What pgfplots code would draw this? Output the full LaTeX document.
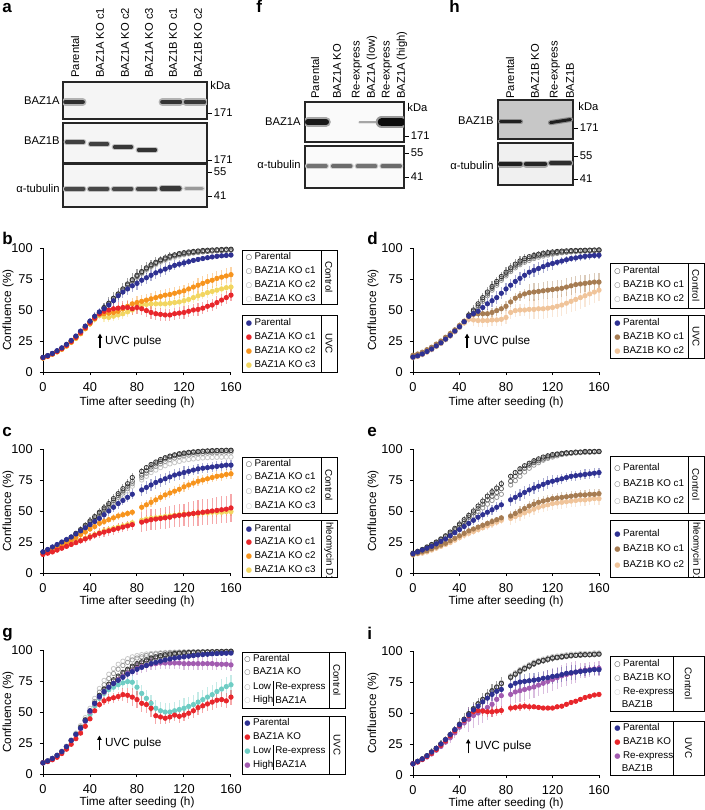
\documentclass[border=0pt]{standalone}
\usepackage{pgfplots}
\pgfplotsset{compat=1.18}
\usepackage{pgfplotstable}
\usepackage{fontspec}
\setmainfont{Liberation Sans}
\newfontfamily\sym{DejaVu Sans}
\usetikzlibrary{arrows.meta}

\definecolor{cb}{HTML}{2E3192}
\definecolor{cr}{HTML}{E8262B}
\definecolor{co}{HTML}{F7941D}
\definecolor{cy}{HTML}{F2D660}
\definecolor{cbr}{HTML}{A67C52}
\definecolor{ctn}{HTML}{F0C49A}
\definecolor{ccy}{HTML}{6ECDC4}
\definecolor{cpu}{HTML}{A25BB0}
\definecolor{g0}{HTML}{333333}
\definecolor{g1}{HTML}{666666}
\definecolor{g2}{HTML}{9A9A9A}
\definecolor{g3}{HTML}{C8C8C8}

\newcommand{\lgf}{\fontsize{4.9}{5.5}\selectfont}
\newcommand{\blf}{\fontsize{5.6}{6.5}\selectfont}
\newcommand{\axf}{\fontsize{5.9}{7}\selectfont}
\newcommand{\oc}[1]{{\color{#1}\sym\fontsize{3.6}{4}\selectfont ○}}
\newcommand{\fc}[1]{{\color{#1}\sym\fontsize{3.6}{4}\selectfont ●}}
\newcommand{\band}[7]{\addplot[no marks, line width=#5, #7, line cap=round] coordinates {(#1,#3) (#2,#3)};\addplot[no marks, line width=#4, #6, line cap=round] coordinates {(#1,#3) (#2,#3)};}

\tikzset{lg/.style={anchor=west, inner sep=0pt, font=\lgf}}
\pgfplotsset{
 conf/.style={scale only axis, anchor=south west, width=94pt, height=62pt,
   xmin=0, xmax=160, ymin=0, ymax=100, enlargelimits=false,
   axis lines=left, axis line style={-, line width=0.5pt},
   xtick={0,40,80,120,160}, ytick={0,25,50,75,100},
   tick align=outside, major tick length=1.6pt, tick style={line width=0.5pt, black},
   tick label style={font=\fontsize{6.4}{7}\selectfont},
   /pgf/number format/assume math mode=true, clip=false},
 ctl/.style={only marks, mark=o, mark size=1.1pt, draw=#1, mark options={line width=0.4pt, draw=#1, fill=none}},
 ctle/.style={ctl=#1, error bars/.cd, y dir=both, y explicit, error mark=none, error bar style={line width=0.6pt, #1, opacity=0.45}},
 trt/.style={only marks, mark=*, mark size=1.1pt, color=#1, error bars/.cd, y dir=both, y explicit, error mark=none, error bar style={line width=0.6pt, #1, opacity=0.4}},
 blot/.style={scale only axis, anchor=south west, xmin=0, ymin=0, ymax=1, ticks=none,
   axis line style={line width=0.6pt, black!85}, clip=true, axis background/.style={fill=black!4}},
}

% ---------------- panel b ----------------
\pgfplotstableread{
t P C1 C2 C3 U R O Y eP eU eR eO eY
0 11.5 11.5 11.5 11.5 11.8 11.5 11.3 11.2 1 1 1 1 1
4 13 13 13 13 13.2 12.8 12.7 12.6 1 1 1 1 1
8 14.8 14.8 14.8 14.6 15 14.6 14.4 14.3 1 1 1 1 1
12 16.8 16.8 16.6 16.5 17.2 16.6 16.3 16.2 1 1 1 1 1
16 19 19 18.8 18.6 19.5 18.8 18.4 18.2 1 1 1 1 1
20 21.8 21.6 21.5 21.2 22.3 21.5 21 20.8 1 1.5 1 1 1
24 25 24.8 24.6 24.3 25.5 24.5 24 23.8 1.5 1.5 1.5 1.5 1.5
28 28.5 28.3 28 27.6 29 28 27.4 27 1.5 2 2 1.5 1.5
32 32.5 32.2 32 31.5 33 31.8 31 30.8 2 2 2 2 2
36 36.5 36.2 36 35.5 37 35.8 35 34.8 2 2.5 2.5 2 2
40 40.5 40.2 40 39.5 41 39.8 39 38.8 2.5 2.5 2.5 2.5 2.5
44 44.5 44.2 44 43.5 45 43.5 43 42.5 3 3 3 3 3
48 48 47.8 47.5 47 48.5 47 46.5 45.5 3 3 3 3 3
52 52 51.5 51.5 50.5 51 49 47 44.5 4 4 4 4 4
56 55.5 55 55 54 54 50 47.5 44 5 5 5 4 4
60 59.5 59 59 58 57.5 51 48 45 5 5 5 5 4
64 63 62.5 62.5 61.5 61.5 51.5 49 46 5 5 5 5 4
68 67 66 66.5 65 64.5 52 51 47 5 5 5 5 4
72 71 70 70.5 69 67 52 53 48.5 5 5 5 5 4
76 74.5 73.5 74 72.5 69.5 51 55 50 5 5 5 5 4
80 78 77 77.5 76 71.5 52 56 53 5 5 5 5 4
84 81 80 80.5 79 74 51 57 54 5 5 5 5 4
88 84 83 83.5 82 76 49.5 58 54.5 5 5 5 5 4
92 86.5 85.5 86 84.5 78 48 59 55 4 5 5 5 4
96 88.5 87.5 88 86.5 80 47 60 55 4 5 5 5 4
100 90.5 89.5 90 88.5 81.5 46.5 61 55 3 5 5 5 4
104 92 91 91.5 90 83 46 62 55 3 5 5 5 4
108 93.5 92.5 93 91.5 84.5 46 62.5 55.5 3 4 5 5 4
112 94.5 93.5 94 92.5 86 47 63.5 56 2 4 5 5 4
116 95.5 94.5 95 93.5 87 47.5 64.5 56.5 2 3 5 5 4
120 96.2 95.2 95.7 94.5 88 48 65.5 57.5 2 3 5 5 4
124 96.8 95.8 96.3 95.2 89 49 67 58.5 1.5 3 5 5 4
128 97.2 96.3 96.8 95.8 90 50 68.5 60 1.5 2 5 5 4
132 97.6 96.7 97.2 96.3 90.8 50.5 70 61.5 1.5 2 5 6 4
136 98 97 97.5 96.8 91.5 51.5 71.5 62.5 1 2 5 6 4
140 98.2 97.3 97.8 97.2 92.2 53 73 64 1 2 5 6 4
144 98.4 97.6 98 97.5 92.8 54 74 65 1 1.5 5 6 4
148 98.6 97.8 98.2 97.8 93.3 56 75.5 66 1 1.5 5 6 4
152 98.8 98 98.4 98 93.7 58 76.5 67 1 1.5 5 6 4
156 99 98.2 98.6 98.2 94 60 77.5 68 1 1.5 5 6 4
160 99 98.3 98.7 98.3 94.3 62 78.5 68.5 1 1.5 5 6 4
}\tb

% ---------------- panel c ----------------
\pgfplotstableread{
t P C1 C2 C3 U R O Y eP eU eR eO eY
0 17 16.8 16.5 16.5 17 15 16 15.5 1.5 2 2 2 2
4 18.5 18.3 18 18 19 16 17.5 16.5 1.5 2 2 2 2
8 20 19.8 19.5 19.5 21 17 19 17.5 1.5 2 2 2 2
12 22 21.8 21.5 21.3 23 18.5 20.5 19 1.5 2 2 2 2
16 24 23.7 23.3 23 25 20 22.5 20.5 1.5 2 2 2 2
20 26.5 26 25.5 25 27 21.5 24.5 22 1.5 2 2 2 2
24 29 28.5 28 27.5 29 23 26.5 23.5 1.5 2 2 2 2
28 32 31.3 30.5 30 31.5 24.5 28.5 25 1.5 2 2 2 2
32 35 34.3 33.5 32.8 34 26 31 26.5 3 3 3 2.5 2.5
36 38.5 37.5 36.5 35.8 36.5 27.5 33 28 3 3 3 2.5 2.5
40 42 41 40 39 39 29 35.5 29.5 3 3 3 2.5 2.5
44 45.5 44.5 43.5 42.3 41.5 30.5 37.5 31 3 3 3 2.5 2.5
48 49 48 47 45.5 44 32 40 32.5 3.5 4 4 3 3
52 52.5 51.3 50 48.8 47 33 41.5 34 3.5 4 4 3 3
56 56 54.8 53.5 52 50 34 43 35 3.5 4 4 3 3
60 60 58.5 57 55.5 53 35 44.5 36 3.5 4 4 3 3
64 64 62.5 61 59 56 36 46 37 3.5 4 4 3 3
68 68 66.3 64.5 62.5 58.5 37 47 38 3.5 4 4 3 3
72 72 70 68 66 61 38 48 39 3.5 4 4 3 3
76 77 74 72 70 63.5 39 49 40.5 3.5 4 4 3 3
84 82 79 77 75 67 41 53 42.5 2.5 5 8 4 3
88 85 82.5 80.5 78 69 42 55 43.5 2 5 8.5 4 3
92 87.5 85.5 83.5 81 71 43 57 44 2 5 8.5 4 3
96 89.5 88 86 83 73 43.5 59 44.5 2 5 8.5 4 3
100 91.5 90 88 85 74.5 44 61 45 2 5 8.5 4 3
104 93 92 90 86.5 76 44.5 63 45.5 1.5 5 9 4 3.5
108 94.3 93.5 91.5 88 77.5 45 64.5 46 1.5 5 9 4 3.5
112 95.3 94.6 92.8 89 79 46 66 46.5 1.5 5 9 4 3.5
116 96.2 95.5 93.8 90 80 46.5 67.5 47 1.5 5 9 4 3.5
120 96.8 96.2 94.6 91 81 47 69.5 47.5 1.5 5 9 4 3.5
124 97.3 96.8 95.2 91.5 82 47.5 71 47.5 1 4 10 4 3.5
128 97.7 97.2 95.7 92 83 48 72.5 48 1 4 10 4 3.5
132 98 97.6 96.1 92.5 84 48.5 74 48 1 4 10.5 4 3.5
136 98.3 97.9 96.4 92.8 84.5 49 75 48.5 1 4 10.5 4 3.5
140 98.5 98.1 96.7 93 85 49.5 76 48.5 1 4 10.5 4 3.5
144 98.7 98.3 96.9 93.2 85.5 50 77 49 1 4 10.5 4 3.5
148 98.8 98.5 97.1 93.3 86 50.5 78 49 1 4 11 4 3.5
152 98.9 98.6 97.3 93.4 86.5 51 78.5 49 1 4 11 4 3.5
156 99 98.7 97.4 93.5 87 51.5 79.5 49.5 1 4 11 4 3.5
160 99 98.8 97.5 93.5 87 52.5 80 49.5 1 4 11 4 3.5
}\tc

% ---------------- panel d ----------------
\pgfplotstableread{
t P C1 C2 U B1 B2 eP eU eB1 eB2
0 12 12 12 12 13.5 11.5 1 1 1 1
4 13 13 13 13 14.5 12.5 1 1 1 1
8 14.5 14.5 14.5 14.5 16 14 1 1 1 1
12 16.5 16.5 16.3 16.5 18 16 1 1 1 1
16 18.5 18.5 18.3 18.5 20 18 1 1 1 1
20 21 21 20.8 21 22.5 20.5 1 1 1 1
24 23.5 23.5 23.2 23.5 25 23 1 1 1 1
28 26.5 26.5 26.2 26.5 28 26 1 1 1 1
32 29.5 29.5 29.2 29.5 31 29 2 2.5 2.5 2.5
36 33 33 32.6 33 34 32.5 2 2.5 2.5 2.5
40 36.5 36.5 36 36.5 37.5 36 2 2.5 2.5 2.5
44 40.5 40.3 39.8 40.5 41 39.5 2 2.5 2.5 2.5
48 46 45.5 45 45 45 42.5 3 3 3 3
52 50 49 48.5 47 46.5 42 4 5 4 5
56 55 53.5 52.5 49 47 41.5 4 5 4 5
60 60 58.5 57 52 47 41.5 4 5 4 5
64 64.5 63 61.5 55 47 41.5 4 5 4 5
68 69 67.5 66 57.5 48 42 4 5 4 5
72 73 71.5 70 60 49.5 42 4 5 4 5
76 77 75.5 74 63.5 51 42.5 4 5 4 5
80 80.5 79 77.5 67 53 44 4 5 4 5
84 84 82.5 81 70 56.5 48 4 5 4 5
88 87 85.5 84 73 59.5 49.5 4 5 4 5
92 89.5 88 86.5 75.5 61.5 50 4 5 4 5
96 91.5 90 88.5 78 63 50 4 5 4 5
100 93 91.5 90 80.5 64 50.5 2.5 5 7 8
104 94 92.8 91.5 82 64.5 50.5 2.5 5 7 8
108 95 93.8 92.6 83.5 65 51 2.5 5 7 8
112 95.8 94.6 93.5 85 65.5 51 2.5 5 7 8
116 96.3 95.3 94.3 86.5 66 51.5 2.5 5 7 8
120 96.8 95.8 95 87.5 66.5 52 2.5 5 7 8
124 97.2 96.3 95.6 88.5 67 53 1.5 3 7 9
128 97.5 96.7 96.1 89.5 67.5 54 1.5 3 7 9
132 97.7 97 96.5 90.5 68.5 55.5 1.5 3 7 9
136 97.9 97.3 96.8 91.5 69.5 57 1.5 3 7 9
140 98 97.5 97.1 92 70.5 58.5 1.5 3 7 9
144 98.1 97.7 97.3 92.8 71 60 1.5 3 7 9
148 98.2 97.9 97.5 93.3 71.5 61.5 1.5 3 7 9
152 98.3 98 97.7 93.7 72 63 1.5 3 7 9
156 98.4 98.1 97.8 94 72.5 64.5 1.5 3 7 9
160 98.5 98.2 98 94.2 72.5 66 1.5 3 7 9
}\td

% ---------------- panel e ----------------
\pgfplotstableread{
t P C1 C2 U B1 B2 eP eU eB1 eB2
0 16 15.5 15 15.5 15 14.5 1.5 1.5 1.5 1.5
4 17.5 17 16.5 17 16 15.5 1.5 1.5 1.5 1.5
8 19 18.5 18 18.5 17 16 1.5 1.5 1.5 1.5
12 21 20.5 20 20 18 17 1.5 1.5 1.5 1.5
16 23 22.5 22 21.5 19.5 18.5 1.5 1.5 1.5 1.5
20 25 24.5 24 23.5 21 20 1.5 1.5 1.5 1.5
24 27.5 27 26.5 25.5 22.5 21.5 1.5 1.5 1.5 1.5
28 30 29.5 28.5 27.5 24 23 1.5 1.5 1.5 1.5
32 33 32 31 30 26 24.5 1.5 1.5 1.5 1.5
36 36 35 34 32.5 28 26.5 1.5 1.5 1.5 1.5
40 39.5 38.5 37 35 30 28.5 3 4 2.5 3
44 43 41.5 40 37.5 32 30.5 3 4 2.5 3
48 46.5 45 43 40 34 32 3 4 2.5 3
52 50 48.5 46 42.5 35.5 33.5 3 4 2.5 3
56 54 52 49.5 45 37 35 3 4 2.5 3
60 58 55.5 52.5 47 38.5 36.5 3 4 2.5 3
64 62 59 55.5 49 40 38 3 4 2.5 3
68 65.5 62 58.5 51 41.5 39.5 3 4 2.5 3
72 68.5 65 61 53 43 41 3 4 2.5 3
76 72 68 63.5 55 44.5 42.5 3 4 2.5 3
84 78 74 71 59 46 44 2 5 4 5
88 81 78 74.5 61 48 45.5 2 5 4 5
92 84 81.5 78 63 50 47 2 5 4 5
96 86.5 84.5 81.5 65 52 48.5 2 5 4 5
100 88.5 87 84.5 67 54 50 2 5 4 5
104 90.5 89 87 68.5 55.5 51.5 2 5 4 5
108 92 90.5 89 70 57 53 2 5 4 5
112 93.5 92 91 71.5 58 54 2 5 4 5
116 94.5 93.5 92.5 73 59 55 2 5 4 5
120 95.5 94.5 93.5 74 60 56 2 5 4 5
124 96 95.5 94.5 75 60.5 56.5 1 4 4 5
128 96.5 96 95.5 76 61 57 1 4 4 5
132 97 96.5 96 77 61.5 57.5 1 4 4 5
136 97 97 96.5 78 62 58 1 4 4 5
140 97.5 97 97 78.5 62.5 58.5 1 4 4 5
144 97.5 97.5 97 79 63 59 1 4 4 5
148 98 97.5 97.5 79.5 63 59 1 4 4 5
152 98 97.5 97.5 80 63.5 59.5 1 4 4 5
156 98 98 97.5 80.5 63.5 60 1 4 4 5
160 98 98 98 81 64 60 1 4 4 5
}\te

% ---------------- panel g ----------------
\pgfplotstableread{
t P K L H U R CY PU eP eU eR eCY ePU
0 9 9 9 9 9 9 9 9 1 1 1 1 1
4 10.5 10.5 10.5 10.5 10.5 10 10.5 10.5 1 1 1 1 1
8 12.5 12.5 12.5 12.5 12.5 11.5 12.5 12.5 1 1 1 1 1
12 15 15 15 15 15 13.5 15 15 1 1 1 1 1
16 18 18 18 18.5 18 16.5 18 18 1 1 1 1 1
20 22 22 22 22.5 22 20 22 22 1.5 1.5 1.5 1.5 1.5
24 27 27 27 27.5 27 24 27 27 1.5 1.5 1.5 1.5 1.5
28 32 32 32 33 32 28.5 32 31.5 2 2 2 2 2
32 37.5 37.5 38 39 37 33 37 36.5 2 2 2 2 2
36 43.5 43.5 44 45.5 43 38.5 42.5 42.5 2 2 2 2 2
40 50 50 51 53 51 44.5 48 50 2 2 2 2 2
44 57 56.5 58.5 61 57 51 55 56.5 2 2 2 3 2
48 63.5 63 66 69 62.5 56 61 62 2 2 3 3 2
52 68.5 68 72 75.5 66.5 59 65 66 2 2 3 3 3
56 72.5 72 77 80.5 70 60.5 68 70 2 2 4 4 3
60 76 75 81 85 73 61.5 70 73 2 2 4 4 3
64 79 78 84.5 88.5 75.5 62.5 72 76 2 2 4 4 4
68 82 81 87.5 91 78 64 73.5 78.5 2 2 5 5 4
72 84.5 83.5 90 93 80.5 63.5 74.5 81 2 2 6 5 4
76 87 86 92 94.5 82.5 62 74 83 2 2 7 6 4
80 89 88 93.5 95.5 84.5 60 70 85 2 2 7 6 5
84 90.5 89.5 94.5 96.3 86 57 65 86.5 2 2 7 7 5
88 92 91 95.5 96.8 87.5 56 61 87.5 2 2 7 7 5
92 93.5 92.5 96.3 97.2 89 53 57 88.5 2 2 7 7 5
96 94.5 93.5 96.8 97.5 90 47 53 89 1.5 2 7 7 5
100 95.5 94.5 97.2 97.8 91 46 51 89.5 1.5 2 6 7 5
104 96.2 95.3 97.5 98 92 45 50 89.5 1.5 1.5 5 7 5
108 96.8 96 97.8 98.2 92.8 46 50 89.5 1 1.5 5 7 5
112 97.2 96.5 98 98.3 93.5 47.5 51 89.5 1 1.5 5 7 5
116 97.5 97 98.2 98.4 94 46.5 52 89.5 1 1.5 5 8 5
120 97.8 97.3 98.3 98.5 94.5 47.5 53 89 1 1 5 8 5
124 98 97.6 98.4 98.5 95 49 54.5 89 1 1 5 8 5
128 98.2 97.8 98.5 98.6 95.5 51 56 89 1 1 6 8 5
132 98.3 98 98.5 98.6 96 53.5 58 89 1 1 6 8 5
136 98.4 98.1 98.6 98.7 96.3 55 60 89 1 1 6 8 5
140 98.5 98.2 98.6 98.7 96.6 56.5 62 89 1 1 6 8 5
144 98.6 98.3 98.7 98.8 96.9 58 64 89 1 1 6 8 5
148 98.7 98.4 98.7 98.8 97.1 59.5 66.5 88.5 1 1 6 8 5
152 98.8 98.5 98.8 98.9 97.3 60 68.5 88.5 1 1 6 8 5
156 98.9 98.6 98.8 98.9 97.4 59 70.5 88.5 1 1 6 8 5
160 99 98.7 98.9 99 97.5 62 72 88 1 1 6 8 5
}\tg

% ---------------- panel i ----------------
\pgfplotstableread{
t P K RE U R PU eP eU eR ePU
0 9 9 9 9 9 9 1 1 1 1
4 11 11 11 11 10.5 10.5 1 1 1 1
8 13 13 13 13 12.5 12.5 1 1 1 1
12 15.5 15.5 15.5 15.5 15 14.5 1 1 1 1
16 18.5 18.5 18.5 18.5 17.5 17 3 2 1.5 2
20 21.5 21.5 21.5 21.5 20.5 20 3 2 1.5 2
24 25 25 25 25 24 23 3 2 1.5 2
28 28.5 28.5 28.5 28.5 27.5 26.5 3 2 1.5 2
32 32.5 32.5 32.5 32.5 31.5 30 3 3 3 4
36 36.5 36.5 36.5 36.5 35.5 34 3 3 3 4
40 41 40.5 41 40.5 40 38.5 5 3 3 4
44 45 44.5 45 44.5 44 42 5 3 3 4
48 49.5 49 49.5 48.5 48 45 5 5 4 10
52 53.5 53 53.5 52.5 51 48 5 5 4 10
56 57.5 57 57.5 55.5 52 50 5 5 4 10
60 61 60.5 61 59 51.5 52 5 5 4 10
64 64.5 64 64.5 62 51 54.5 5 5 4 10
68 68 67.5 68 65 51 57 5 5 4 10
72 71 70.5 71 67.5 51.5 61 5 5 4 10
76 74 73.5 74.5 69 52 64 5 5 4 10
84 79 78.5 80 72 54 65 3 6 3 9
88 81.5 81 82.5 74 54.5 67 3 6 3 9
92 84 83.5 85 75 55 68 3 6 3 9
96 86 85.5 87 75.5 55.5 69 3 6 3 9
100 88 87.5 89 76 55 70 3 6 3 9
104 90 89.5 91 76.5 55 71 3 6 1.5 9
108 91.5 91 92.5 77 54.5 72.5 3 6 1.5 9
112 92.5 92 93.5 78 54 74 3 6 1.5 9
116 93.5 93 94.5 78.5 54 75.5 3 6 1.5 9
120 94.5 94 95.5 79.5 54 77 3 6 1.5 9
124 95 94.5 96 80 55 78.5 1.5 6 1 9
128 95.5 95 96.5 81 55.5 80 1.5 6 1 9
132 96 95.5 97 82 57 81 1.5 6 1 9
136 96.5 96 97.5 82.5 58.5 82 1.5 6 1 9
140 96.5 96.5 97.5 83 59.5 83 1.5 6 1 9
144 97 96.5 98 83.5 61 84 1.5 4 1 6
148 97 97 98 84 62.5 84.5 1.5 4 1 6
152 97 97 98 84.5 63.5 85 1.5 4 1 6
156 97.5 97 98.5 85 64.5 85.5 1.5 4 1 6
160 97.5 97.5 98.5 85 65 86 1.5 4 1 6
}\ti

\begin{document}
\begin{tikzpicture}
\useasboundingbox (0,0) rectangle (352.5pt,-405pt);

% ================= BLOTS =================
% a
\begin{axis}[blot, at={(31.5pt,-59.5pt)}, width=72pt, height=18.5pt, xmax=6]
\band{0.1}{0.82}{0.46}{2.2pt}{3.8pt}{black!82}{black!30}
\band{4.14}{4.88}{0.46}{2.2pt}{3.8pt}{black!80}{black!30}
\band{5.12}{5.88}{0.46}{2.2pt}{3.8pt}{black!78}{black!30}
\end{axis}
\begin{axis}[blot, at={(31.5pt,-81.5pt)}, width=72pt, height=20pt, xmax=6]
\band{0.15}{0.85}{0.52}{1.8pt}{3pt}{black!75}{black!25}
\band{1.15}{1.85}{0.47}{1.8pt}{3pt}{black!75}{black!25}
\band{2.15}{2.85}{0.40}{1.8pt}{3pt}{black!78}{black!25}
\band{3.15}{3.85}{0.33}{1.8pt}{3pt}{black!80}{black!25}
\end{axis}
\begin{axis}[blot, at={(31.5pt,-103.5pt)}, width=72pt, height=21.5pt, xmax=6]
\band{0.12}{0.85}{0.42}{2pt}{3.2pt}{black!72}{black!25}
\band{1.12}{1.85}{0.42}{2pt}{3.2pt}{black!72}{black!25}
\band{2.12}{2.85}{0.42}{2pt}{3.2pt}{black!72}{black!25}
\band{3.12}{3.85}{0.42}{2pt}{3.2pt}{black!72}{black!25}
\band{4.12}{4.85}{0.43}{2.2pt}{3.4pt}{black!78}{black!28}
\band{5.12}{5.8}{0.43}{1.6pt}{2.8pt}{black!40}{black!15}
\end{axis}
% f
\begin{axis}[blot, at={(152.5pt,-71pt)}, width=49.5pt, height=20pt, xmax=4, axis background/.style={fill=black!2}]
\band{0.12}{0.85}{0.5}{3pt}{4.8pt}{black!90}{black!35}
\band{2.2}{2.9}{0.5}{0.7pt}{1.5pt}{black!35}{black!10}
\band{3.1}{3.9}{0.5}{4pt}{6pt}{black!95}{black!40}
\end{axis}
\begin{axis}[blot, at={(152.5pt,-94pt)}, width=49.5pt, height=21pt, xmax=4, axis background/.style={fill=black!2}]
\band{0.12}{0.85}{0.52}{1.8pt}{3pt}{black!55}{black!18}
\band{1.12}{1.85}{0.52}{1.8pt}{3pt}{black!58}{black!18}
\band{2.12}{2.85}{0.52}{1.8pt}{3pt}{black!55}{black!18}
\band{3.12}{3.85}{0.52}{1.8pt}{3pt}{black!58}{black!18}
\end{axis}
% h
\begin{axis}[blot, at={(249pt,-69.5pt)}, width=37.5pt, height=19.5pt, xmax=3, axis background/.style={fill=black!22}]
\band{0.1}{0.9}{0.44}{1.5pt}{2.6pt}{black!88}{black!45}
\addplot[no marks, line width=2.6pt, black!45, line cap=round] coordinates {(2.1,0.42) (2.9,0.5)};
\addplot[no marks, line width=1.5pt, black!88, line cap=round] coordinates {(2.1,0.42) (2.9,0.5)};
\end{axis}
\begin{axis}[blot, at={(249pt,-92.5pt)}, width=37.5pt, height=21pt, xmax=3, axis background/.style={fill=black!6}]
\band{0.08}{0.9}{0.5}{2.2pt}{3.5pt}{black!88}{black!35}
\band{1.12}{1.88}{0.5}{2.2pt}{3.5pt}{black!85}{black!35}
\band{2.12}{2.88}{0.52}{2pt}{3.3pt}{black!82}{black!35}
\end{axis}

% ================= CHARTS =================
% b
\begin{axis}[conf, at={(21.5pt,-186pt)}]
\addplot[ctl=g3] table[x=t,y=C3]{\tb};
\addplot[ctl=g2] table[x=t,y=C2]{\tb};
\addplot[ctl=g1] table[x=t,y=C1]{\tb};
\addplot[ctle=g0] table[x=t,y=P,y error=eP]{\tb};
\addplot[trt=cy] table[x=t,y=Y,y error=eY]{\tb};
\addplot[trt=co] table[x=t,y=O,y error=eO]{\tb};
\addplot[trt=cr] table[x=t,y=R,y error=eR]{\tb};
\addplot[trt=cb] table[x=t,y=U,y error=eU]{\tb};
\draw[-{Triangle[length=2.2pt,width=2.2pt]}, line width=0.6pt] (axis cs:48.5,19.5) -- (axis cs:48.5,31);
\node[anchor=base west, inner sep=0pt, font=\axf] at (axis cs:52.5,22.3) {UVC pulse};
\end{axis}
% d
\begin{axis}[conf, at={(206.5pt,-186pt)}, width=93pt]
\addplot[ctl=g2] table[x=t,y=C2]{\td};
\addplot[ctl=g1] table[x=t,y=C1]{\td};
\addplot[ctle=g0] table[x=t,y=P,y error=eP]{\td};
\addplot[trt=ctn] table[x=t,y=B2,y error=eB2]{\td};
\addplot[trt=cbr] table[x=t,y=B1,y error=eB1]{\td};
\addplot[trt=cb] table[x=t,y=U,y error=eU]{\td};
\draw[-{Triangle[length=2.2pt,width=2.2pt]}, line width=0.6pt] (axis cs:46.5,19.5) -- (axis cs:46.5,31);
\node[anchor=base west, inner sep=0pt, font=\axf] at (axis cs:52,22.3) {UVC pulse};
\end{axis}
% c
\begin{axis}[conf, at={(21.5pt,-286.5pt)}]
\addplot[ctl=g3] table[x=t,y=C3]{\tc};
\addplot[ctl=g2] table[x=t,y=C2]{\tc};
\addplot[ctl=g1] table[x=t,y=C1]{\tc};
\addplot[ctle=g0] table[x=t,y=P,y error=eP]{\tc};
\addplot[trt=cy] table[x=t,y=Y,y error=eY]{\tc};
\addplot[trt=co] table[x=t,y=O,y error=eO]{\tc};
\addplot[trt=cr] table[x=t,y=R,y error=eR]{\tc};
\addplot[trt=cb] table[x=t,y=U,y error=eU]{\tc};
\end{axis}
% e
\begin{axis}[conf, at={(206.5pt,-286.5pt)}, width=93pt]
\addplot[ctl=g2] table[x=t,y=C2]{\te};
\addplot[ctl=g1] table[x=t,y=C1]{\te};
\addplot[ctle=g0] table[x=t,y=P,y error=eP]{\te};
\addplot[trt=ctn] table[x=t,y=B2,y error=eB2]{\te};
\addplot[trt=cbr] table[x=t,y=B1,y error=eB1]{\te};
\addplot[trt=cb] table[x=t,y=U,y error=eU]{\te};
\end{axis}
% g
\begin{axis}[conf, at={(21.5pt,-387pt)}]
\addplot[ctl=g3] table[x=t,y=H]{\tg};
\addplot[ctl=g2] table[x=t,y=L]{\tg};
\addplot[ctl=g1] table[x=t,y=K]{\tg};
\addplot[ctle=g0] table[x=t,y=P,y error=eP]{\tg};
\addplot[trt=ccy] table[x=t,y=CY,y error=eCY]{\tg};
\addplot[trt=cpu] table[x=t,y=PU,y error=ePU]{\tg};
\addplot[trt=cr] table[x=t,y=R,y error=eR]{\tg};
\addplot[trt=cb] table[x=t,y=U,y error=eU]{\tg};
\draw[-{Triangle[length=2.2pt,width=2.2pt]}, line width=0.6pt] (axis cs:48,19.5) -- (axis cs:48,31);
\node[anchor=base west, inner sep=0pt, font=\axf] at (axis cs:52.5,22.3) {UVC pulse};
\end{axis}
% i
\begin{axis}[conf, at={(206.5pt,-387.5pt)}, width=93pt]
\addplot[ctl=g3] table[x=t,y=RE]{\ti};
\addplot[ctl=g1] table[x=t,y=K]{\ti};
\addplot[ctle=g0] table[x=t,y=P,y error=eP]{\ti};
\addplot[trt=cpu] table[x=t,y=PU,y error=ePU]{\ti};
\addplot[trt=cr] table[x=t,y=R,y error=eR]{\ti};
\addplot[trt=cb] table[x=t,y=U,y error=eU]{\ti};
\draw[-{Triangle[length=2.2pt,width=2.2pt]}, line width=0.6pt] (axis cs:47.5,17.5) -- (axis cs:47.5,29);
\node[anchor=base west, inner sep=0pt, font=\axf] at (axis cs:53,20.3) {UVC pulse};
\end{axis}

% ================= ANNOTATIONS (pixel coords) =================
\begin{scope}[x=0.5pt, y=-0.5pt]
% panel letters
\foreach \l/\x/\y in {a/2/12, f/256/12, h/449/12, b/2/244, d/367/244, c/2/436, e/367/436, g/2/637, i/367/639}
  \node[anchor=base west, inner sep=0pt, font=\fontsize{8.5}{9}\selectfont\bfseries] at (\x,\y) {\l};

% ----- blot a labels -----
\foreach \x/\t in {75/Parental, 100/BAZ1A KO c1, 125/BAZ1A KO c2, 149/BAZ1A KO c3, 173/BAZ1B KO c1, 198/BAZ1B KO c2}
  \node[rotate=90, anchor=west, inner sep=0pt, font=\blf] at (\x,78) {\t};
\node[anchor=east, inner sep=0pt, font=\blf] at (60,101) {BAZ1A};
\node[anchor=east, inner sep=0pt, font=\blf] at (60,141) {BAZ1B};
\node[anchor=east, inner sep=0pt, font=\blf] at (60,188) {α-tubulin};
\node[anchor=west, inner sep=0pt, font=\blf] at (210,85) {kDa};
\foreach \y/\t in {113/171, 160/171, 172/55, 196/41}{
  \draw[line width=0.5pt] (208,\y) -- (212,\y);
  \node[anchor=west, inner sep=0pt, font=\blf] at (213.5,\y) {\t};}

% ----- blot f labels -----
\foreach \x/\t in {315/Parental, 337/BAZ1A KO, 357/Re-express, 372/BAZ1A (low), 387/Re-express, 402/BAZ1A (high)}
  \node[rotate=90, anchor=west, inner sep=0pt, font=\blf] at (\x,99) {\t};
\node[anchor=east, inner sep=0pt, font=\blf] at (301,122) {BAZ1A};
\node[anchor=east, inner sep=0pt, font=\blf] at (301,164) {α-tubulin};
\node[anchor=west, inner sep=0pt, font=\blf] at (407,107) {kDa};
\foreach \y/\t in {136/171, 153/55, 177/41}{
  \draw[line width=0.5pt] (405,\y) -- (409,\y);
  \node[anchor=west, inner sep=0pt, font=\blf] at (410.5,\y) {\t};}

% ----- blot h labels -----
\foreach \x/\t in {510/Parental, 535/BAZ1B KO, 555/Re-express, 570/BAZ1B}
  \node[rotate=90, anchor=west, inner sep=0pt, font=\blf] at (\x,99) {\t};
\node[anchor=east, inner sep=0pt, font=\blf] at (494,121) {BAZ1B};
\node[anchor=east, inner sep=0pt, font=\blf] at (494,165) {α-tubulin};
\node[anchor=west, inner sep=0pt, font=\blf] at (578,106) {kDa};
\foreach \y/\t in {128/171, 156/55, 179/41}{
  \draw[line width=0.5pt] (574,\y) -- (578,\y);
  \node[anchor=west, inner sep=0pt, font=\blf] at (579.5,\y) {\t};}

% ----- axis titles -----
\foreach \x/\y in {137/402, 506/402, 137/601, 506/601, 137/802, 506/803}
  \node[inner sep=0pt, font=\axf] at (\x,\y) {Time after seeding (h)};
\foreach \x/\y in {8/310, 373/310, 8/511, 373/511, 8/712, 373/713}
  \node[rotate=90, inner sep=0pt, font=\axf] at (\x,\y) {Confluence (\%)};

% ----- legend b -----
\draw[line width=0.5pt] (242,250) rectangle (337,304); \draw[line width=0.5pt] (321,250) -- (321,304);
\node[rotate=-90, inner sep=0pt, font=\lgf] at (329,277) {Control};
\node[lg] at (245.5,256) {\oc{g0}\hspace{1.2pt}Parental};
\node[lg] at (245.5,270.5) {\oc{g1}\hspace{1.2pt}BAZ1A KO c1};
\node[lg] at (245.5,285) {\oc{g2}\hspace{1.2pt}BAZ1A KO c2};
\node[lg] at (245.5,299) {\oc{g3}\hspace{1.2pt}BAZ1A KO c3};
\draw[line width=0.5pt] (242,315) rectangle (337,372); \draw[line width=0.5pt] (321,315) -- (321,372);
\node[rotate=-90, inner sep=0pt, font=\lgf] at (329,343.5) {UVC};
\node[lg] at (245.5,322) {\fc{cb}\hspace{1.2pt}Parental};
\node[lg] at (245.5,336.5) {\fc{cr}\hspace{1.2pt}BAZ1A KO c1};
\node[lg] at (245.5,350.5) {\fc{co}\hspace{1.2pt}BAZ1A KO c2};
\node[lg] at (245.5,364.5) {\fc{cy}\hspace{1.2pt}BAZ1A KO c3};

% ----- legend d -----
\draw[line width=0.5pt] (610,263) rectangle (704,308); \draw[line width=0.5pt] (688,263) -- (688,308);
\node[rotate=-90, inner sep=0pt, font=\lgf] at (696,285.5) {Control};
\node[lg] at (614,270) {\oc{g0}\hspace{1.2pt}Parental};
\node[lg] at (614,284.5) {\oc{g1}\hspace{1.2pt}BAZ1B KO c1};
\node[lg] at (614,299) {\oc{g2}\hspace{1.2pt}BAZ1B KO c2};
\draw[line width=0.5pt] (610,315) rectangle (704,358); \draw[line width=0.5pt] (688,315) -- (688,358);
\node[rotate=-90, inner sep=0pt, font=\lgf] at (696,336.5) {UVC};
\node[lg] at (614,322) {\fc{cb}\hspace{1.2pt}Parental};
\node[lg] at (614,336.5) {\fc{cbr}\hspace{1.2pt}BAZ1B KO c1};
\node[lg] at (614,351) {\fc{ctn}\hspace{1.2pt}BAZ1B KO c2};

% ----- legend c -----
\draw[line width=0.5pt] (242,457) rectangle (337,513); \draw[line width=0.5pt] (321,457) -- (321,513);
\node[rotate=-90, inner sep=0pt, font=\lgf] at (329,485) {Control};
\node[lg] at (245.5,463) {\oc{g0}\hspace{1.2pt}Parental};
\node[lg] at (245.5,477) {\oc{g1}\hspace{1.2pt}BAZ1A KO c1};
\node[lg] at (245.5,491) {\oc{g2}\hspace{1.2pt}BAZ1A KO c2};
\node[lg] at (245.5,505.5) {\oc{g3}\hspace{1.2pt}BAZ1A KO c3};
\draw[line width=0.5pt] (242,520) rectangle (337,577); \draw[line width=0.5pt] (321,520) -- (321,577);
\begin{scope}\clip (321,520) rectangle (337,577);
\node[rotate=-90, inner sep=0pt, font=\lgf] at (329,548.5) {Phleomycin D1};
\end{scope}
\node[lg] at (245.5,528) {\fc{cb}\hspace{1.2pt}Parental};
\node[lg] at (245.5,542) {\fc{cr}\hspace{1.2pt}BAZ1A KO c1};
\node[lg] at (245.5,556) {\fc{co}\hspace{1.2pt}BAZ1A KO c2};
\node[lg] at (245.5,569.5) {\fc{cy}\hspace{1.2pt}BAZ1A KO c3};

% ----- legend e -----
\draw[line width=0.5pt] (610,456) rectangle (704,513); \draw[line width=0.5pt] (688,456) -- (688,513);
\node[rotate=-90, inner sep=0pt, font=\lgf] at (696,484.5) {Control};
\node[lg] at (614,467) {\oc{g0}\hspace{1.2pt}Parental};
\node[lg] at (614,483.5) {\oc{g1}\hspace{1.2pt}BAZ1B KO c1};
\node[lg] at (614,501) {\oc{g2}\hspace{1.2pt}BAZ1B KO c2};
\draw[line width=0.5pt] (610,520) rectangle (704,577); \draw[line width=0.5pt] (688,520) -- (688,577);
\begin{scope}\clip (688,520) rectangle (704,577);
\node[rotate=-90, inner sep=0pt, font=\lgf] at (696,548.5) {Phleomycin D1};
\end{scope}
\node[lg] at (614,533) {\fc{cb}\hspace{1.2pt}Parental};
\node[lg] at (614,549) {\fc{cbr}\hspace{1.2pt}BAZ1B KO c1};
\node[lg] at (614,565) {\fc{ctn}\hspace{1.2pt}BAZ1B KO c2};

% ----- legend g -----
\draw[line width=0.5pt] (242,652) rectangle (345,708); \draw[line width=0.5pt] (329,652) -- (329,708);
\node[rotate=-90, inner sep=0pt, font=\lgf] at (337,680) {Control};
\node[lg] at (244,658) {\oc{g0}\hspace{1.2pt}Parental};
\node[lg] at (244,672) {\oc{g1}\hspace{1.2pt}BAZ1A KO};
\node[lg] at (244,686.5) {\oc{g2}\hspace{1.2pt}Low};
\node[lg] at (244,700) {\oc{g3}\hspace{1.2pt}High};
\draw[line width=0.4pt] (273,681) -- (273,706);
\node[lg] at (275,687.5) {Re-express};
\node[lg] at (275,700) {BAZ1A};
\draw[line width=0.5pt] (242,716) rectangle (345,774); \draw[line width=0.5pt] (329,716) -- (329,774);
\node[rotate=-90, inner sep=0pt, font=\lgf] at (337,745) {UVC};
\node[lg] at (244,722) {\fc{cb}\hspace{1.2pt}Parental};
\node[lg] at (244,736.5) {\fc{cr}\hspace{1.2pt}BAZ1A KO};
\node[lg] at (244,751) {\fc{ccy}\hspace{1.2pt}Low};
\node[lg] at (244,765) {\fc{cpu}\hspace{1.2pt}High};
\draw[line width=0.4pt] (273,745) -- (273,770);
\node[lg] at (275,751) {Re-express};
\node[lg] at (275,764) {BAZ1A};

% ----- legend i -----
\draw[line width=0.5pt] (610,656) rectangle (704,711); \draw[line width=0.5pt] (673,656) -- (673,711);
\node[rotate=-90, inner sep=0pt, font=\lgf] at (688.5,683.5) {Control};
\node[lg] at (614,663) {\oc{g0}\hspace{1.2pt}Parental};
\node[lg] at (614,678) {\oc{g1}\hspace{1.2pt}BAZ1B KO};
\node[lg] at (614,692.5) {\oc{g3}\hspace{1.2pt}Re-express};
\node[lg] at (621.5,704) {BAZ1B};
\draw[line width=0.5pt] (610,721) rectangle (704,775); \draw[line width=0.5pt] (673,721) -- (673,775);
\node[rotate=-90, inner sep=0pt, font=\lgf] at (688.5,748) {UVC};
\node[lg] at (614,727) {\fc{cb}\hspace{1.2pt}Parental};
\node[lg] at (614,742) {\fc{cr}\hspace{1.2pt}BAZ1B KO};
\node[lg] at (614,756.5) {\fc{cpu}\hspace{1.2pt}Re-express};
\node[lg] at (621.5,768) {BAZ1B};
\end{scope}
\end{tikzpicture}
\end{document}
